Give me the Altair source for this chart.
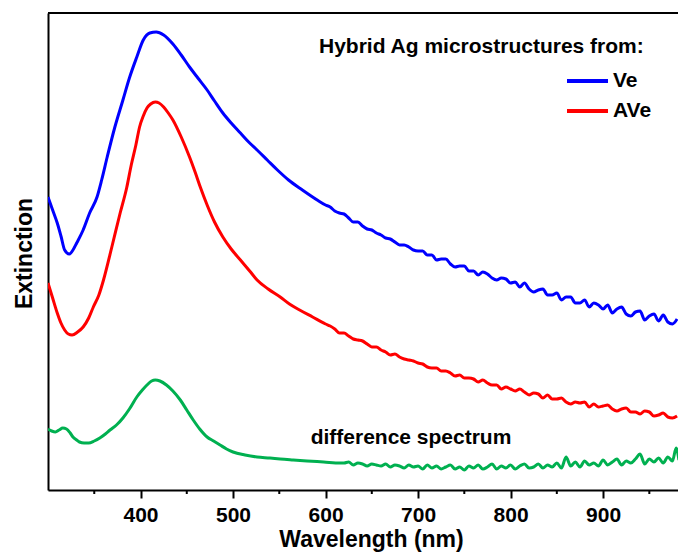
import altair as alt
import pandas as pd

# ---- data (arbitrary extinction units) ----
ve_nm = [300, 305, 310, 314, 318, 323, 327, 331, 338, 345, 353, 358, 364, 372, 381, 388, 396, 403, 410, 417,
         425, 435, 444, 453, 462, 472, 480, 489, 498, 508, 518, 526, 537, 548, 560, 575, 591,
         600, 605, 610, 615, 620, 625, 630, 635, 640, 645, 650, 655, 660, 665, 670, 675, 680, 685, 690, 695,
         700, 705, 710, 715, 720, 725, 730, 735, 740, 745, 750, 755, 760, 765, 770, 775, 780, 785, 790, 795,
         800, 805, 810, 815, 820, 825, 830, 835, 840, 845, 850, 855, 860, 865, 870, 875, 880, 885, 890, 895,
         900, 905, 910, 915, 920, 925, 930, 935, 940, 945, 950, 955, 960, 965, 970, 975, 980]
ve_val = [293, 280, 267, 254, 240, 236, 240, 247, 260, 277, 293, 310, 333, 362, 390, 412, 433, 450, 457, 458,
          455, 446, 435, 423, 412, 400, 389, 377, 367, 357, 347, 340, 330, 320, 310, 300, 290,
          285, 283, 279, 277, 276, 272, 268, 268, 264, 261, 260, 257, 255, 252, 251, 248, 245, 245, 243, 240,
          239, 239, 235, 235, 230, 231, 231, 226, 223, 224, 224, 219, 219, 215, 218, 216, 212, 210, 212, 211,
          207, 208, 203, 207, 201, 198, 200, 201, 195, 195, 197, 190, 193, 193, 187, 187, 190, 183, 187, 185,
          181, 185, 177, 181, 183, 176, 174, 178, 179, 170, 174, 176, 169, 175, 168, 166, 171]

ave_nm = [300, 305, 310, 314, 318, 322, 326, 332, 338, 344, 349, 355, 360, 369, 378, 385, 390, 395, 399, 403,
          407, 411, 416, 420, 425, 430, 435, 444, 453, 459, 465, 472, 480, 489, 498, 508, 518, 526, 538, 551,
          561, 572, 586,
          600, 605, 610, 615, 620, 625, 630, 635, 640, 645, 650, 655, 660, 665, 670, 675, 680, 685, 690, 695,
          700, 705, 710, 715, 720, 725, 730, 735, 740, 745, 750, 755, 760, 765, 770, 775, 780, 785, 790, 795,
          800, 805, 810, 815, 820, 825, 830, 835, 840, 845, 850, 855, 860, 865, 870, 875, 880, 885, 890, 895,
          900, 905, 910, 915, 920, 925, 930, 935, 940, 945, 950, 955, 960, 965, 970, 975, 980]
ave_val = [207, 192, 177, 167, 160, 156, 155, 158, 163, 172, 183, 195, 210, 243, 277, 302, 325, 345, 363, 374,
           382, 386, 388, 387, 383, 377, 370, 353, 333, 318, 302, 285, 268, 253, 241, 230, 219, 210, 201, 193,
           186, 180, 173,
           166, 164, 161, 157, 157, 154, 151, 150, 149, 146, 143, 143, 140, 138, 135, 136, 133, 131, 130, 129,
           127, 126, 123, 122, 122, 119, 119, 117, 114, 115, 112, 112, 111, 108, 110, 107, 105, 105, 101, 103,
           101, 99, 101, 98, 95, 97, 96, 92, 95, 91, 91, 92, 88, 86, 88, 87, 88, 83, 86, 83,
           84, 85, 81, 79, 81, 82, 78, 78, 76, 79, 78, 74, 75, 77, 73, 72, 74]

diff_nm = [300, 304, 308, 312, 316, 320, 324, 327, 331, 334, 339, 344, 350, 356, 362, 367, 374, 381, 388, 396,
           402, 407, 412, 416, 421, 428, 435, 443, 450, 457, 464, 472, 479, 486, 493, 500, 513, 526, 540, 551,
           565, 580, 598, 616,
           620, 625, 630, 635, 640, 645, 650, 655, 660, 665, 670, 675, 680, 685, 690, 695,
           700, 705, 710, 715, 720, 725, 730, 735, 740, 745, 750, 755, 760, 765, 770, 775, 780, 785, 790, 795,
           800, 805, 810, 815, 820, 825, 830, 835, 840, 845, 850, 855, 860, 865, 870, 875, 880, 885, 890, 895,
           900, 905, 910, 915, 920, 925, 930, 935, 940, 945, 950, 955, 960, 965, 970, 975, 979, 982]
diff_val = [61, 59, 58, 60, 62, 61, 57, 53, 50, 48, 47, 47, 49, 52, 56, 60, 65, 72, 81, 93,
            100, 105, 109, 110, 109, 105, 99, 90, 80, 70, 61, 53, 49, 45, 41, 38, 35, 33, 32, 31,
            30, 29, 28, 27,
            27, 28, 25, 27, 26, 24, 26, 25, 24, 26, 23, 25, 24, 22, 25, 23,
            24, 21, 25, 22, 24, 21, 23, 25, 21, 23, 20, 24, 22, 25, 21, 23, 26, 21, 24, 22,
            25, 21, 24, 26, 22, 23, 26, 22, 25, 23, 27, 22, 33, 24, 28, 23, 29, 25, 27, 24,
            30, 25, 28, 31, 25, 29, 27, 31, 36, 26, 31, 28, 32, 27, 33, 29, 42, 30]

series_names = ["Ve", "AVe", "difference"]
series_colors = ["#0000FF", "#FF0000", "#00B050"]
major_ticks = [400, 500, 600, 700, 800, 900]
minor_ticks = [350, 450, 550, 650, 750, 850, 950]
x_domain = [300, 981]
y_domain = [0, 477]

FONT = "Liberation Sans"
W, H = 630, 477

df = pd.concat([
    pd.DataFrame({"nm": ve_nm, "ext": ve_val, "series": "Ve"}),
    pd.DataFrame({"nm": ave_nm, "ext": ave_val, "series": "AVe"}),
    pd.DataFrame({"nm": diff_nm, "ext": diff_val, "series": "difference"}),
])

xscale = alt.Scale(domain=x_domain, nice=False, zero=False)
yscale = alt.Scale(domain=y_domain, nice=False, zero=False)

lines = alt.Chart(df).mark_line(strokeWidth=3, clip=True, interpolate="monotone").encode(
    x=alt.X("nm:Q", scale=xscale, axis=alt.Axis(
        title="Wavelength (nm)", values=major_ticks, grid=False,
        tickSize=8, tickWidth=2, tickColor="black", domainColor="black", domainWidth=2,
        labelFont=FONT, labelFontSize=21, labelFontWeight="bold", labelColor="black", labelPadding=6,
        labelFlush=False,
        titleFont=FONT, titleFontSize=23, titleFontWeight="bold", titleColor="black",
        titleX=323, titleY=56, titleBaseline="alphabetic", titleAlign="center")),
    y=alt.Y("ext:Q", scale=yscale, axis=alt.Axis(
        title="Extinction", labels=False, ticks=False, grid=False,
        domainColor="black", domainWidth=2,
        titleFont=FONT, titleFontSize=23, titleFontWeight="bold", titleColor="black",
        titleX=-17, titleY=240, titleBaseline="alphabetic", titleAlign="center", titleAngle=270)),
    color=alt.Color("series:N", scale=alt.Scale(domain=series_names, range=series_colors), legend=None),
    detail="series:N",
)

minor = alt.Chart(pd.DataFrame({"nm": minor_ticks})).mark_rule(color="black", strokeWidth=2).encode(
    x=alt.X("nm:Q", scale=xscale),
    y=alt.value(H), y2=alt.value(H + 4),
)

top_line = alt.Chart(pd.DataFrame({"a": [0]})).mark_rule(color="black", strokeWidth=2).encode(
    x=alt.value(0), x2=alt.value(W), y=alt.value(0))

def txt(s, x, y, align="left", size=21):
    return alt.Chart(pd.DataFrame({"t": [s]})).mark_text(
        font=FONT, fontSize=size, fontWeight="bold", color="black", align=align, baseline="alphabetic"
    ).encode(text="t:N", x=alt.value(x), y=alt.value(y))

def legline(color, y):
    return alt.Chart(pd.DataFrame({"a": [0]})).mark_rule(color=color, strokeWidth=4).encode(
        x=alt.value(519), x2=alt.value(560), y=alt.value(y))

chart = alt.layer(
    lines, minor, top_line,
    txt("Hybrid Ag microstructures from:", 271, 40),
    legline(series_colors[0], 68), txt("Ve", 565, 74),
    legline(series_colors[1], 98), txt("AVe", 565, 104),
    txt("difference spectrum", 363, 431, align="center"),
).properties(
    width=W, height=H,
    autosize=alt.AutoSizeParams(type="none"),
    padding={"left": 40, "top": 5, "right": 0, "bottom": 63},
).configure_view(stroke=None).configure(background="white")

chart.save("out.html", embed_options={"renderer": "svg", "actions": False})
